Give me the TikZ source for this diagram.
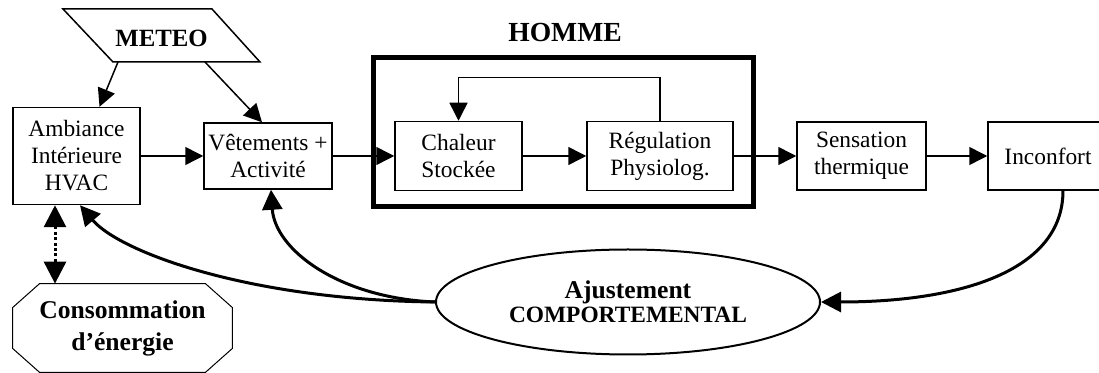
\documentclass[tikz,border=0pt]{standalone}
\usepackage{fontspec}
\setmainfont{Liberation Serif}
\usetikzlibrary{arrows.meta,shapes.geometric}

\begin{document}
\begin{tikzpicture}[x=0.5pt,y=-0.5pt,
    bloc/.style={draw, line width=0.75pt, inner sep=0pt, align=center, font=\fontsize{11.7}{13.5}\selectfont},
    fleche/.style={line width=0.75pt, -{Triangle[length=9pt,width=9pt]}},
    retour/.style={line width=1.5pt, -{Triangle[length=10pt,width=10pt]}},
    pointille/.style={line width=1.5pt, dash pattern=on 1.5pt off 1.2pt, {Triangle[length=11pt,width=11pt]}-{Triangle[length=11pt,width=11pt]}}]
    \useasboundingbox (0,0) rectangle (1099,373);
    \clip (0,0) rectangle (1099,373);

    % METEO
    \draw[line width=0.75pt] (63,9) -- (212,9) -- (260,62) -- (113,62) -- cycle;
    \node[font=\fontsize{12.4}{14}\selectfont\bfseries] (meteo) at (161.5,38) {METEO};
    \coordinate (meteoA) at (118,62);
    \coordinate (meteoB) at (205,62);

    \node[bloc, minimum width=63.5pt, minimum height=48.5pt] (amb) at (76.5,156) {Ambiance\\Intérieure\\HVAC};
    \node[bloc, minimum width=64pt, minimum height=33pt] (vet) at (268,156) {Vêtements +\\Activité};

    % HOMME
    \node[draw, line width=2.5pt, minimum width=190pt, minimum height=74.5pt, inner sep=0pt] (homme) at (563,132.5) {};
    \node[font=\fontsize{13.8}{16}\selectfont\bfseries] (titre) at (565,33) {HOMME};
    \node[bloc, minimum width=63.5pt, minimum height=34.5pt] (chal) at (458.5,156) {Chaleur\\Stockée};
    \node[bloc, minimum width=73pt, minimum height=34.5pt] (reg) at (660,156) {Régulation\\Physiolog.};

    \node[bloc, minimum width=64.5pt, minimum height=34pt] (sens) at (861.5,156) {Sensation\\thermique};
    \node[bloc, minimum width=60pt, minimum height=34pt] (inc) at (1048,156) {Inconfort};

    \node[draw, ellipse, line width=1pt, minimum width=192pt, minimum height=52.5pt, inner sep=0pt, align=center,
          font=\bfseries] (ajust) at (628,302)
          {\fontsize{12.8}{13.5}\selectfont Ajustement\\\fontsize{11.7}{13.5}\selectfont COMPORTEMENTAL};

    % Consommation
    \node[minimum width=109.5pt, minimum height=44pt, inner sep=0pt, align=center,
          font=\fontsize{12.8}{16}\selectfont\bfseries] (cons) at (122.5,328) {Consommation\\d’énergie};
    \draw[line width=0.5pt] ([xshift=13.5pt]cons.north west) -- ([xshift=-13.5pt]cons.north east)
        -- ([yshift=-12pt]cons.north east) -- ([yshift=12pt]cons.south east)
        -- ([xshift=-13.5pt]cons.south east) -- ([xshift=13.5pt]cons.south west)
        -- ([yshift=12pt]cons.south west) -- ([yshift=-12pt]cons.north west) -- cycle;

    % fleches
    \draw[fleche] (meteoA) -- ([xshift=11.5pt]amb.north);
    \draw[fleche] (meteoB) -- ([xshift=-3pt]vet.north);
    \draw[fleche] (amb.east) -- (vet.west);
    \draw[fleche] (vet.east) -- (chal.west);
    \draw[fleche] (chal.east) -- (reg.west);
    \draw[fleche] (reg.north) -- ++(0,-43) -| (chal.north);
    \draw[fleche] (reg.east) -- (sens.west);
    \draw[fleche] (sens.east) -- (inc.west);

    \draw[retour] ([xshift=7.5pt]inc.south) .. controls +(0,80) and +(140,0) .. (ajust.east);
    \draw[retour] (ajust.west) .. controls +(-96,-4) and +(4,60) .. ([xshift=1.5pt]vet.south);
    \draw[retour] (ajust.west) .. controls +(-186,-2) and +(40,47) .. ([xshift=1.75pt]amb.south);
    \draw[pointille] ([xshift=-10.75pt]amb.south) -- ([xshift=-10.75pt]amb.south |- cons.north);
\end{tikzpicture}
\end{document}
